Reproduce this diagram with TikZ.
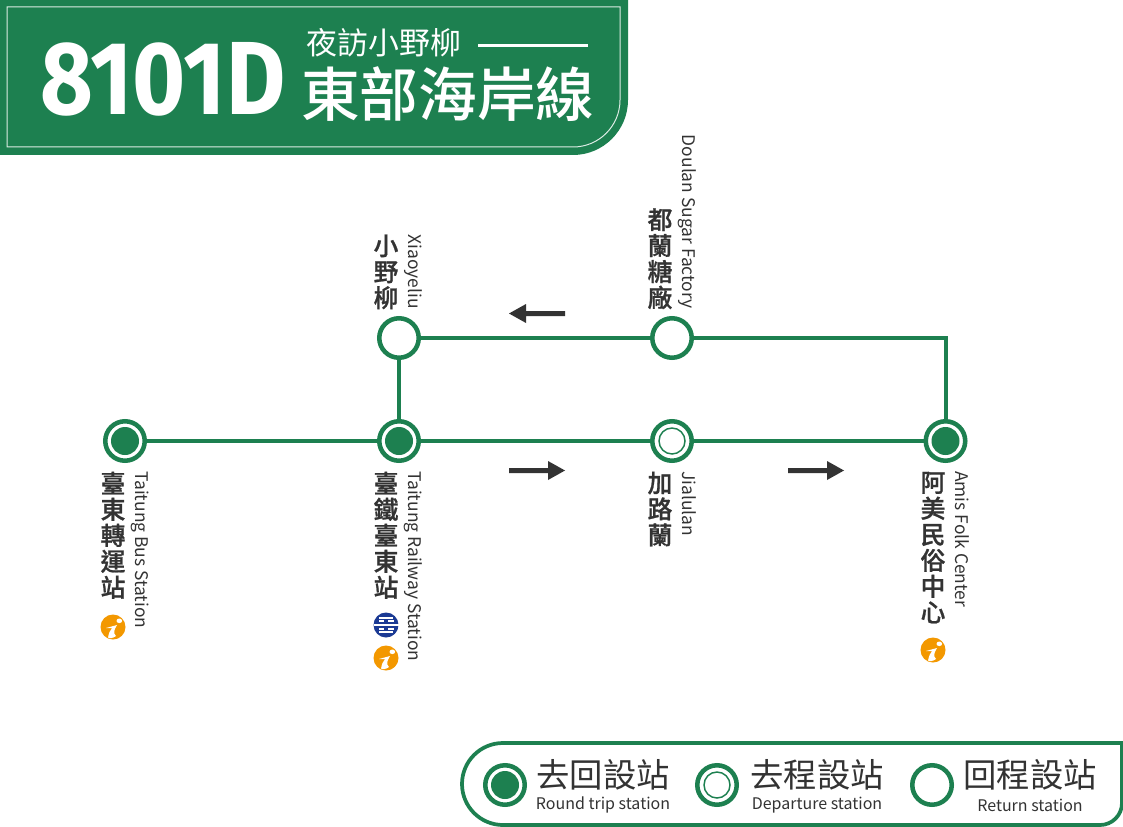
\documentclass[tikz,border=0pt]{standalone}
\usepackage{fontspec}
\usetikzlibrary{backgrounds}
\newfontfamily\cjk{Noto Sans CJK TC}
\newfontfamily\cjkm{Noto Sans CJK TC Medium}[FakeBold=0.9]
\newfontfamily\cjkt{Noto Sans CJK TC Medium}
\newfontfamily\numfont{Fira Sans Bold}[FakeStretch=0.875]
\definecolor{tgreen}{HTML}{1D8050}
\definecolor{tink}{HTML}{333333}
\definecolor{torange}{HTML}{F39800}
\definecolor{tblue}{HTML}{1B3A94}
\tikzset{
  x=0.75pt,y=-0.75pt,
  stn/.style={circle,draw=tgreen,line width=3.4pt,fill=white,minimum size=29.6pt,inner sep=0pt,outer sep=0pt},
  rail/.style={draw=tgreen,line width=3pt},
  dirarrow/.style={fill=tink,draw=none},
  zhname/.style={font=\cjkm\fontsize{18.6}{19.5}\selectfont,text=tink,align=center,inner sep=0pt,anchor=north},
  enname/.style={font=\cjk\fontsize{13.05}{14}\selectfont,text=tink,rotate=-90,inner sep=0pt},
  legzh/.style={font=\cjk\fontsize{25}{26}\selectfont,text=tink,inner sep=0pt},
  legen/.style={font=\cjk\fontsize{12}{14}\selectfont,text=tink,inner sep=0pt},
}
\newcommand{\rounddot}[1]{\fill[tgreen] (#1) circle[radius=14];}
\newcommand{\depring}[1]{\draw[tgreen,line width=1.1pt] (#1) circle[radius=13];}
\newcommand{\infoicon}[1]{%
  \begin{scope}[shift={(#1)}]
    \fill[torange] (0,0) circle[radius=12.5];
    \fill[white] (6.3,-6.2) ellipse[x radius=2.8,y radius=2.3];
    \fill[white] (-7,1) -- (4,-2) .. controls (1,3) and (0,6) .. (3,9) .. controls (0,11.5) and (-4,11.5) .. (-5,10.5) .. controls (-4,6) and (-3,3) .. (-1,1.2) -- cycle;
  \end{scope}}
\begin{document}
\begin{tikzpicture}
\useasboundingbox (0,0) rectangle (1123,827);
\begin{scope}[on background layer]
\fill[white] (0,0) rectangle (1123,827);
\end{scope}
% header
\fill[tgreen] (0,0) -- (628,0) -- (628,100) arc[start angle=0,end angle=90,radius=55] -- (0,155) -- cycle;
\draw[white,line width=0.75pt,opacity=.85] (7,7) -- (620,7) -- (620,100) arc[start angle=0,end angle=90,radius=47] -- (7,147) -- cycle;
\node[inner sep=0pt,text=white,font=\numfont\fontsize{78}{78}\selectfont,anchor=base west] (code) at (40,115) {8101D};
\node[inner sep=0pt,text=white,font=\cjk\fontsize{23.2}{24}\selectfont,anchor=base west] (sub) at (306,55) {夜訪小野柳};
\coordinate (ruleA) at (478,45.5);
\coordinate (ruleB) at (588,45.5);
\draw[white,line width=1.7pt] (ruleA) -- (ruleB);
\node[inner sep=0pt,text=white,font=\cjkt\fontsize{44}{46}\selectfont,anchor=base west] (title) at (301,117) {東部海岸線};
% stations
\node[stn] (bus) at (125,441) {};
\node[stn] (tra) at (399,441) {};
\node[stn] (jia) at (672,441) {};
\node[stn] (ami) at (945.5,441) {};
\node[stn] (xia) at (399,338) {};
\node[stn] (dou) at (672,338) {};
\rounddot{bus}\rounddot{tra}\rounddot{ami}\depring{jia}
\begin{scope}[on background layer]
\draw[rail] (bus) -- (tra);
\draw[rail] (tra) -- (jia);
\draw[rail] (jia) -- (ami);
\draw[rail] (ami) |- (dou);
\draw[rail] (dou) -- (xia);
\draw[rail] (xia) -- (tra);
\end{scope}
% arrows
\fill[dirarrow] (565,311) -- (526,311) -- (526,304) -- (509,313.5) -- (526,323) -- (526,316) -- (565,316) -- cycle;
\fill[dirarrow] (509,468) -- (548,468) -- (548,461) -- (565,470.5) -- (548,480) -- (548,473) -- (509,473) -- cycle;
\fill[dirarrow] (788,468) -- (827,468) -- (827,461) -- (844,470.5) -- (827,480) -- (827,473) -- (788,473) -- cycle;
% names
\node[zhname] (n1) at (113,471.5) {臺\\東\\轉\\運\\站};
\node[zhname] (n2) at (386,471.5) {臺\\鐵\\臺\\東\\站};
\node[zhname] (n3) at (660,471.5) {加\\路\\蘭};
\node[zhname] (n4) at (933,471.5) {阿\\美\\民\\俗\\中\\心};
\node[zhname,anchor=south] (n5) at (386,309.5) {小\\野\\柳};
\node[zhname,anchor=south] (n6) at (660,309.5) {都\\蘭\\糖\\廠};
\node[enname,anchor=base west] (e1) at (135,471) {Taitung Bus Station};
\node[enname,anchor=base west] (e2) at (408,471) {Taitung Railway Station};
\node[enname,anchor=base west] (e3) at (682,471) {Jialulan};
\node[enname,anchor=base west] (e4) at (955,471) {Amis Folk Center};
\node[enname,anchor=base east] (e5) at (408,309) {Xiaoyeliu};
\node[enname,anchor=base east] (e6) at (682,309) {Doulan Sugar Factory};
% icons
\infoicon{113,627}
\infoicon{386,658}
\infoicon{933,650}
\begin{scope}[shift={(386,625)}]
  \fill[tblue] (0,0) circle[radius=12.5];
  \fill[white] (-7,-8) rectangle (7,-6.2);
  \fill[white] (-7,6.2) rectangle (7,8);
  \fill[white] (-12.5,-1.2) rectangle (12.5,1.2);
  \fill[white] (-7.5,-4.8) rectangle (-1.6,-3.2);
  \fill[white] (1.6,-4.8) rectangle (7.5,-3.2);
  \fill[white] (-7.5,3.2) rectangle (-1.6,4.8);
  \fill[white] (1.6,3.2) rectangle (7.5,4.8);
\end{scope}
% legend
\draw[tgreen,line width=2.8pt] (1122,743) -- (503,743) arc[start angle=-90,end angle=-270,radius=41] -- (1100,825) arc[start angle=90,end angle=0,radius=22] -- cycle;
\node[stn] (l1) at (505,785) {};
\node[stn] (l2) at (717,785) {};
\node[stn] (l3) at (932,785) {};
\rounddot{l1}\depring{l2}
\node[legzh] (a1) at (603,775) {去回設站};
\node[legen] (b1) at (603,805) {Round trip station};
\node[legzh] (a2) at (817,775) {去程設站};
\node[legen] (b2) at (817,805) {Departure station};
\node[legzh] (a3) at (1030,775) {回程設站};
\node[legen] (b3) at (1030,805) {Return station};
\end{tikzpicture}
\end{document}
